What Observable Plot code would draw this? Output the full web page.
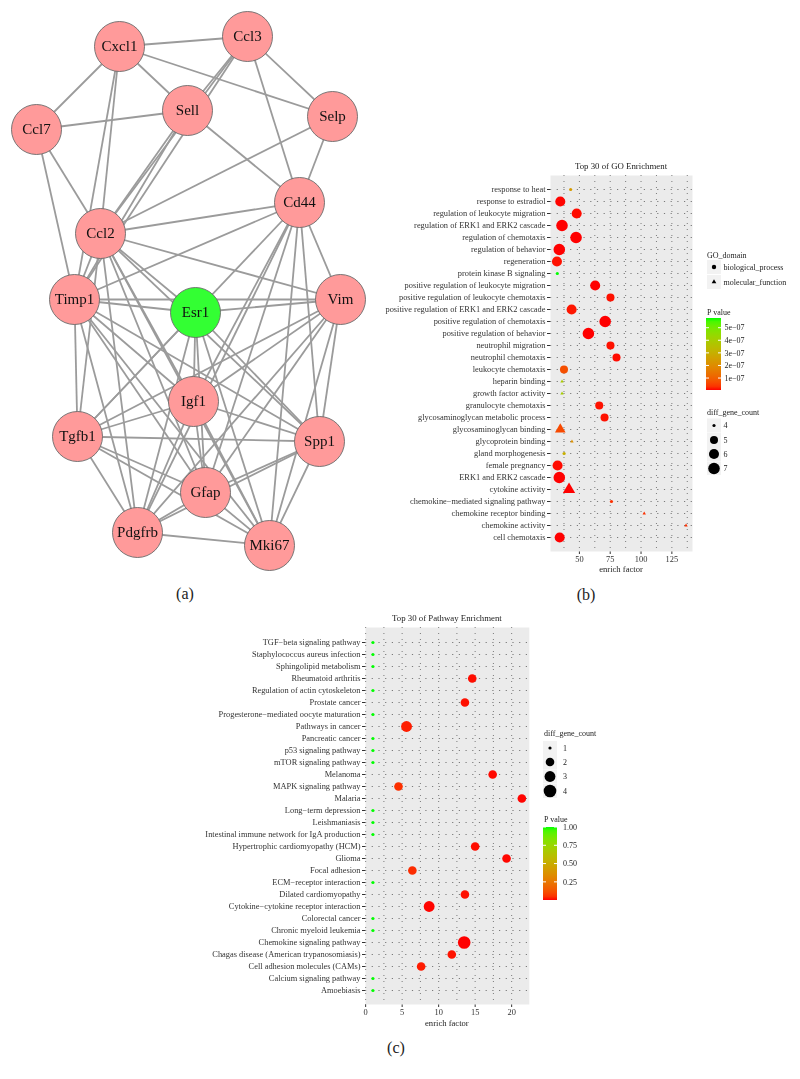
<!DOCTYPE html>
<html><head><meta charset="utf-8">
<script src="https://cdn.jsdelivr.net/npm/d3@7"></script>
<script src="https://cdn.jsdelivr.net/npm/@observablehq/plot@0.6"></script>
<style>
body{margin:0;background:#fff;}
#fig{position:relative;width:800px;height:1079px;overflow:hidden;font-family:"Liberation Serif",serif;color:#222;}
.t{position:absolute;white-space:nowrap;line-height:1;}
#fig svg{will-change:transform;transform:translateZ(0);}
</style></head><body><div id="fig"></div>
<script>
// ---------------- DATA ----------------
// (a) network: node names and layout coordinates
const nodes = ["Cxcl1","Ccl3","Sell","Selp","Ccl7","Cd44","Ccl2","Timp1","Esr1","Vim","Igf1","Tgfb1","Spp1","Gfap","Pdgfrb","Mki67"];
const nodeX = [119,247,187,332,36,299,100,74,195,340,193,77,319,205,137,269];
const nodeY = [46,36,110,116,129,202,233,299,312,299,401,436,441,492,532,545];
const hubNodes = ["Esr1"];
const edgeSource = ["Cxcl1","Cxcl1","Cxcl1","Cxcl1","Cxcl1","Cxcl1",
  "Ccl3","Ccl3","Ccl3","Ccl3","Ccl3",
  "Ccl7","Ccl7","Ccl7",
  "Sell","Sell","Sell",
  "Selp","Selp",
  "Cd44","Cd44","Cd44","Cd44","Cd44","Cd44","Cd44","Cd44","Cd44",
  "Ccl2","Ccl2","Ccl2","Ccl2","Ccl2","Ccl2","Ccl2","Ccl2","Ccl2",
  "Timp1","Timp1","Timp1","Timp1","Timp1","Timp1","Timp1","Timp1",
  "Esr1","Esr1","Esr1","Esr1","Esr1","Esr1","Esr1",
  "Vim","Vim","Vim","Vim","Vim","Vim",
  "Igf1","Igf1","Igf1","Igf1","Igf1",
  "Tgfb1","Tgfb1","Tgfb1","Tgfb1",
  "Spp1","Spp1","Spp1",
  "Gfap","Gfap","Pdgfrb"];
const edgeTarget = ["Ccl3","Selp","Sell","Ccl7","Ccl2","Timp1",
  "Sell","Ccl2","Selp","Cd44","Timp1",
  "Sell","Ccl2","Timp1",
  "Cd44","Ccl2","Timp1",
  "Ccl2","Cd44",
  "Ccl2","Timp1","Igf1","Gfap","Pdgfrb","Mki67","Spp1","Vim","Tgfb1",
  "Vim","Timp1","Tgfb1","Esr1","Igf1","Spp1","Pdgfrb","Gfap","Mki67",
  "Esr1","Vim","Tgfb1","Spp1","Igf1","Mki67","Pdgfrb","Gfap",
  "Vim","Tgfb1","Igf1","Spp1","Mki67","Gfap","Pdgfrb",
  "Tgfb1","Igf1","Spp1","Pdgfrb","Mki67","Gfap",
  "Tgfb1","Spp1","Gfap","Pdgfrb","Mki67",
  "Spp1","Pdgfrb","Gfap","Mki67",
  "Pdgfrb","Mki67","Gfap",
  "Pdgfrb","Mki67","Mki67"];

// (b) GO enrichment
const goTerms = ["response to heat","response to estradiol","regulation of leukocyte migration","regulation of ERK1 and ERK2 cascade","regulation of chemotaxis","regulation of behavior","regeneration","protein kinase B signaling","positive regulation of leukocyte migration","positive regulation of leukocyte chemotaxis","positive regulation of ERK1 and ERK2 cascade","positive regulation of chemotaxis","positive regulation of behavior","neutrophil migration","neutrophil chemotaxis","leukocyte chemotaxis","heparin binding","growth factor activity","granulocyte chemotaxis","glycosaminoglycan metabolic process","glycosaminoglycan binding","glycoprotein binding","gland morphogenesis","female pregnancy","ERK1 and ERK2 cascade","cytokine activity","chemokine−mediated signaling pathway","chemokine receptor binding","chemokine activity","cell chemotaxis"];
const goEnrich = [42.9,34.5,47.8,35.9,47.3,33.7,31.8,32.1,62.8,75.2,43.7,70.9,57.3,75.2,80.1,37.5,35.9,35.9,66.1,70.4,34.5,44.0,37.6,32.3,33.7,41.6,76.0,102.6,136.5,34.0];
const goCount = [4,6,6,7,7,7,6,4,6,5,6,7,7,5,5,5,4,4,5,5,6,4,4,6,7,7,4,4,4,6];
const goP = [2.4e-7,6e-9,8e-9,5e-9,5e-9,5e-9,1e-8,5.77e-7,5e-9,1e-8,1.2e-8,5e-9,5e-9,1e-8,8e-9,7e-8,3.9e-7,4.0e-7,1e-8,1e-8,6e-8,2.1e-7,3.0e-7,8e-9,5e-9,5e-9,3e-8,3e-8,3e-8,5e-9];
const goDomain = ["biological_process","biological_process","biological_process","biological_process","biological_process","biological_process","biological_process","biological_process","biological_process","biological_process","biological_process","biological_process","biological_process","biological_process","biological_process","biological_process","molecular_function","molecular_function","biological_process","biological_process","molecular_function","molecular_function","biological_process","biological_process","biological_process","molecular_function","biological_process","molecular_function","molecular_function","biological_process"];
const goXTicks = [50,75,100,125];
const goPTicks = [1e-7,2e-7,3e-7,4e-7,5e-7];
const goCountTicks = [4,5,6,7];
const goDomains = ["biological_process","molecular_function"];

// (c) Pathway enrichment
const pwTerms = ["TGF−beta signaling pathway","Staphylococcus aureus infection","Sphingolipid metabolism","Rheumatoid arthritis","Regulation of actin cytoskeleton","Prostate cancer","Progesterone−mediated oocyte maturation","Pathways in cancer","Pancreatic cancer","p53 signaling pathway","mTOR signaling pathway","Melanoma","MAPK signaling pathway","Malaria","Long−term depression","Leishmaniasis","Intestinal immune network for IgA production","Hypertrophic cardiomyopathy (HCM)","Glioma","Focal adhesion","ECM−receptor interaction","Dilated cardiomyopathy","Cytokine−cytokine receptor interaction","Colorectal cancer","Chronic myeloid leukemia","Chemokine signaling pathway","Chagas disease (American trypanosomiasis)","Cell adhesion molecules (CAMs)","Calcium signaling pathway","Amoebiasis"];
const pwEnrich = [1,1,1,14.6,1,13.6,1,5.6,1,1,1,17.4,4.5,21.4,1,1,1,15.0,19.3,6.4,1,13.6,8.7,1,1,13.5,11.8,7.6,1,1];
const pwCount = [1,1,1,2,1,2,1,3,1,1,1,2,2,2,1,1,1,2,2,2,1,2,3,1,1,4,2,2,1,1];
const pwP = [1,1,1,0.008,1,0.01,1,0.02,1,1,1,0.006,0.045,0.004,1,1,1,0.008,0.005,0.04,1,0.01,0.004,1,1,0.002,0.012,0.018,1,1];
const pwXTicks = [0,5,10,15,20];
const pwPTicks = [0.25,0.5,0.75,1.0];
const pwCountTicks = [1,2,3,4];

// ---------------- HELPERS ----------------
const fig = document.getElementById("fig");
const FONT = "Liberation Serif";
function put(el, left, top){ el.style.position="absolute"; el.style.left=left+"px"; el.style.top=top+"px"; fig.appendChild(el); return el; }
function txt(s, x, y, size, anchor="middle", color="#222"){
  const d=document.createElement("div"); d.className="t"; d.textContent=s;
  d.style.fontSize=size+"px"; d.style.color=color;
  const tx = anchor==="middle"?"-50%":anchor==="end"?"-100%":"0";
  d.style.transform=`translate(${tx},-50%)`;
  put(d,x,y); return d;
}
const colorInterp = d3.interpolateLab;
const RED="#ff0000", GREEN="#00ff00";
const circleSym = d3.symbolCircle;
const triSym = {draw(ctx,size){ d3.symbolTriangle.draw(ctx, size*0.62); }};
const AXIS_FONT = "8.4px";

// ---------------- (a) NETWORK ----------------
const idx = Object.fromEntries(nodes.map((n,i)=>[n,i]));
const nodeData = nodes.map((n,i)=>({name:n,x:nodeX[i],y:nodeY[i],hub:hubNodes.includes(n)}));
const edgeData = edgeSource.map((s,i)=>({x1:nodeX[idx[s]],y1:nodeY[idx[s]],x2:nodeX[idx[edgeTarget[i]]],y2:nodeY[idx[edgeTarget[i]]]}));
const netPlot = Plot.plot({
  width:380, height:575, margin:0,
  style:{background:"transparent", fontFamily:FONT},
  x:{domain:[0,380], range:[0,380], axis:null},
  y:{domain:[0,575], range:[0,575], axis:null},
  color:{type:"identity"},
  marks:[
    Plot.link(edgeData,{x1:"x1",y1:"y1",x2:"x2",y2:"y2",stroke:"#9b9b9b",strokeWidth:1.8}),
    Plot.dot(nodeData,{x:"x",y:"y",r:25,fill:d=>d.hub?"#33ff33":"#ff9a9a",stroke:"#6a6a6a",strokeWidth:0.9}),
    Plot.text(nodeData,{x:"x",y:"y",text:"name",fontSize:15,fill:"#111",fontFamily:FONT})
  ]
});
put(netPlot,0,0);
txt("(a)",185,594,16);
txt("(b)",586,595,16);
txt("(c)",396,1048,16);

// ---------------- (b) GO ----------------
(function(){
  const left=380, top=160, panelTop=175, panelBottom=551, marginLeft=170, panelW=142;
  const width = marginLeft+panelW+6;
  const data = goTerms.map((t,i)=>({term:t,enrich:goEnrich[i],count:goCount[i],p:goP[i],dom:goDomain[i]}));
  const ext=d3.extent(goEnrich), pad=(ext[1]-ext[0])*0.05, xDom=[ext[0]-pad,ext[1]+pad];
  const cExt=d3.extent(goCount);
  const rRange=[1.6,5.8];
  const minor=[37.5,62.5,87.5,112.5,137.5].filter(v=>v>xDom[0]&&v<xDom[1]);
  const p = Plot.plot({
    width, height:panelBottom-top+36, marginLeft, marginRight:6, marginTop:panelTop-top, marginBottom:36,
    style:{background:"transparent",fontFamily:FONT,fontSize:AXIS_FONT,color:"#333"},
    x:{domain:xDom, ticks:goXTicks, tickSize:3, tickPadding:2, label:null},
    y:{type:"point", domain:goTerms, padding:0.6, tickSize:3, tickPadding:2, label:null},
    color:{type:"linear", domain:d3.extent(goP), range:[RED,GREEN], interpolate:colorInterp},
    r:{type:"sqrt", domain:[0,cExt[1]-cExt[0]], range:rRange},
    symbol:{domain:goDomains, range:[circleSym,triSym]},
    marks:[
      Plot.frame({fill:"#ebebeb",stroke:"none"}),
      Plot.ruleX([...goXTicks,...minor],{x:d=>d,stroke:"#222",strokeWidth:0.8,strokeOpacity:0.7,strokeDasharray:"1 5"}),
      Plot.ruleY(goTerms,{y:d=>d,stroke:"#222",strokeWidth:0.8,strokeOpacity:0.7,strokeDasharray:"1.2 5.5"}),
      Plot.dot(data,{x:"enrich",y:"term",r:d=>d.count-cExt[0],fill:"p",symbol:"dom",stroke:"none"})
    ]
  });
  put(p,left,top);
  const cx = left+marginLeft+panelW/2;
  txt("Top 30 of GO Enrichment",cx,166,8.8);
  txt("enrich factor",cx,569,8.6);

  // legends
  const lg = d3.create("svg").attr("width",95).attr("height",230).style("font-family",FONT).style("font-size","8px");
  const ox=705, oy=245;
  const g = lg.append("g");
  const T=(s,x,y,a="start")=>g.append("text").attr("x",x-ox).attr("y",y-oy).attr("dy","0.35em").attr("text-anchor",a).attr("fill","#222").text(s);
  T("GO_domain",707,255);
  [[goDomains[0],267,circleSym],[goDomains[1],282,triSym]].forEach(([lab,y,sym])=>{
    g.append("rect").attr("x",707-ox).attr("y",y-7-oy).attr("width",14).attr("height",14).attr("fill","#f2f2f2");
    g.append("path").attr("transform",`translate(${714-ox},${y-oy})`).attr("d",d3.symbol(sym,Math.PI*2.2*2.2)()).attr("fill","#000");
    T(lab,723.5,y);
  });
  T("P value",707,312);
  const pDom=d3.extent(goP), barTop=318, barBot=390, bx=706, bw=15;
  const ys=d3.scaleLinear().domain(pDom).range([barBot,barTop]);
  const col=d3.scaleLinear().domain(pDom).range([RED,GREEN]).interpolate(colorInterp);
  const gid="gradB", grad=lg.append("defs").append("linearGradient").attr("id",gid).attr("x1",0).attr("x2",0).attr("y1",1).attr("y2",0);
  d3.range(0,1.0001,0.05).forEach(t=>grad.append("stop").attr("offset",t).attr("stop-color",col(pDom[0]+t*(pDom[1]-pDom[0]))));
  g.append("rect").attr("x",bx-ox).attr("y",barTop-oy).attr("width",bw).attr("height",barBot-barTop).attr("fill",`url(#${gid})`);
  goPTicks.forEach(v=>{const y=ys(v);
    g.append("line").attr("x1",bx-ox).attr("x2",bx-ox+3).attr("y1",y-oy).attr("y2",y-oy).attr("stroke","#fff");
    g.append("line").attr("x1",bx+bw-ox-3).attr("x2",bx+bw-ox).attr("y1",y-oy).attr("y2",y-oy).attr("stroke","#fff");
    T(d3.format(".0e")(v).replace("e-","e−0"),724.5,y);
  });
  T("diff_gene_count",707,412);
  const rs=d3.scaleSqrt().domain([0,cExt[1]-cExt[0]]).range(rRange);
  const ly=[425.5,440,454,468.5];
  goCountTicks.forEach((v,i)=>{const y=ly[i];
    g.append("rect").attr("x",707-ox).attr("y",y-7-oy).attr("width",14).attr("height",14).attr("fill","#f2f2f2");
    g.append("circle").attr("cx",714-ox).attr("cy",y-oy).attr("r",rs(v-cExt[0])).attr("fill","#000");
    T(String(v),723.5,y);
  });
  put(lg.node(),ox,oy);
})();

// ---------------- (c) Pathway ----------------
(function(){
  const left=190, top=612, panelTop=627, panelBottom=1004, marginLeft=175;
  const data = pwTerms.map((t,i)=>({term:t,enrich:pwEnrich[i],count:pwCount[i],p:pwP[i]}));
  const ext=d3.extent(pwEnrich), pad=(ext[1]-ext[0])*0.05, xDom=[ext[0]-pad,ext[1]+pad];
  const panelW=(xDom[1]-xDom[0])*7.3;
  const width=Math.round(marginLeft+panelW+6);
  const cExt=d3.extent(pwCount);
  const rRange=[1.6,6.3];
  const minor=[2.5,7.5,12.5,17.5,22.5].filter(v=>v>xDom[0]&&v<xDom[1]);
  const p = Plot.plot({
    width, height:panelBottom-top+36, marginLeft, marginRight:width-marginLeft-panelW, marginTop:panelTop-top, marginBottom:36,
    style:{background:"transparent",fontFamily:FONT,fontSize:AXIS_FONT,color:"#333"},
    x:{domain:xDom, ticks:pwXTicks, tickSize:3, tickPadding:2, label:null},
    y:{type:"point", domain:pwTerms, padding:0.6, tickSize:3, tickPadding:2, label:null},
    color:{type:"linear", domain:d3.extent(pwP), range:[RED,GREEN], interpolate:colorInterp},
    r:{type:"sqrt", domain:[0,cExt[1]-cExt[0]], range:rRange},
    marks:[
      Plot.frame({fill:"#ebebeb",stroke:"none"}),
      Plot.ruleX([...pwXTicks,...minor],{x:d=>d,stroke:"#222",strokeWidth:0.8,strokeOpacity:0.7,strokeDasharray:"1 5"}),
      Plot.ruleY(pwTerms,{y:d=>d,stroke:"#222",strokeWidth:0.8,strokeOpacity:0.7,strokeDasharray:"1.2 5.5"}),
      Plot.dot(data,{x:"enrich",y:"term",r:d=>d.count-cExt[0],fill:"p",stroke:"none"})
    ]
  });
  put(p,left,top);
  const cx = left+marginLeft+panelW/2;
  txt("Top 30 of Pathway Enrichment",cx,618,8.8);
  txt("enrich factor",cx,1023,8.6);

  const lg = d3.create("svg").attr("width",80).attr("height",190).style("font-family",FONT).style("font-size","8px");
  const ox=540, oy=722;
  const g=lg.append("g");
  const T=(s,x,y,a="start")=>g.append("text").attr("x",x-ox).attr("y",y-oy).attr("dy","0.35em").attr("text-anchor",a).attr("fill","#222").text(s);
  T("diff_gene_count",544,733);
  const rs=d3.scaleSqrt().domain([0,cExt[1]-cExt[0]]).range(rRange);
  const ys0=[748,762,776.5,791];
  pwCountTicks.forEach((v,i)=>{const y=ys0[i];
    g.append("rect").attr("x",543-ox).attr("y",y-7-oy).attr("width",14).attr("height",14).attr("fill","#f2f2f2");
    g.append("circle").attr("cx",550-ox).attr("cy",y-oy).attr("r",rs(v-cExt[0])).attr("fill","#000");
    T(String(v),563,y);
  });
  T("P value",544,819);
  const pDom=d3.extent(pwP), barTop=827, barBot=900, bx=543, bw=14;
  const ys=d3.scaleLinear().domain(pDom).range([barBot,barTop]);
  const col=d3.scaleLinear().domain(pDom).range([RED,GREEN]).interpolate(colorInterp);
  const gid="gradC", grad=lg.append("defs").append("linearGradient").attr("id",gid).attr("x1",0).attr("x2",0).attr("y1",1).attr("y2",0);
  d3.range(0,1.0001,0.05).forEach(t=>grad.append("stop").attr("offset",t).attr("stop-color",col(pDom[0]+t*(pDom[1]-pDom[0]))));
  g.append("rect").attr("x",bx-ox).attr("y",barTop-oy).attr("width",bw).attr("height",barBot-barTop).attr("fill",`url(#${gid})`);
  pwPTicks.forEach(v=>{const y=ys(v);
    g.append("line").attr("x1",bx-ox).attr("x2",bx-ox+3).attr("y1",y-oy).attr("y2",y-oy).attr("stroke","#fff");
    g.append("line").attr("x1",bx+bw-ox-3).attr("x2",bx+bw-ox).attr("y1",y-oy).attr("y2",y-oy).attr("stroke","#fff");
    T(d3.format(".2f")(v),563,y);
  });
  put(lg.node(),ox,oy);
})();
</script></body></html>
